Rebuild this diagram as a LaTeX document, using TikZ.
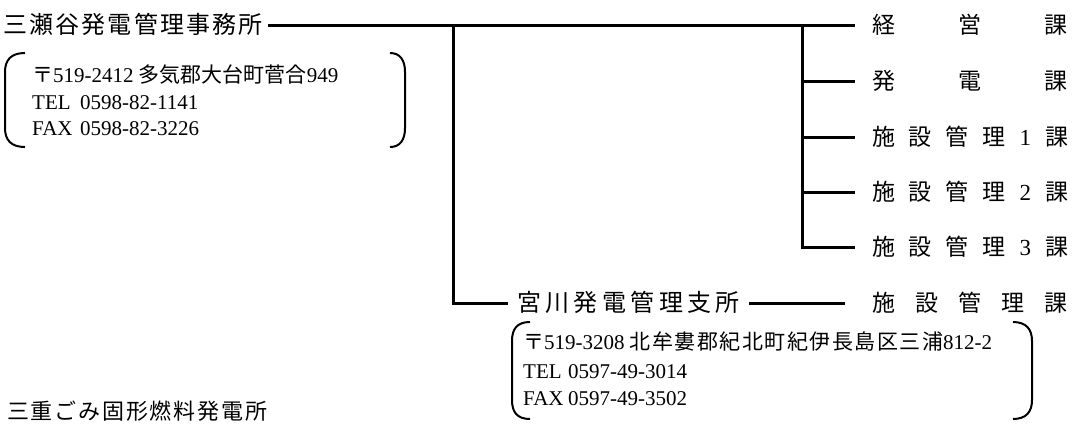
\documentclass[tikz,border=0pt]{standalone}
\usepackage{fontspec}
\setmainfont{Liberation Serif}
\newfontfamily\jp{Noto Sans CJK JP}
\newfontfamily\jpwide{Noto Sans CJK JP}[LetterSpace=7]
\newcommand\spr[2]{\makebox[#1pt][s]{#2}}
\begin{document}
\begin{tikzpicture}[x=1pt,y=-1pt,
  conn/.style={draw=black, line width=3pt},
  brk/.style={draw=black, line width=2pt},
  ttl/.style={anchor=west, inner sep=0pt, text height=19pt, text depth=2pt, font=\fontsize{24}{24}\selectfont\jp},
  lab/.style={anchor=west, inner sep=0pt, outer xsep=17pt, text height=18.4pt, text depth=1.9pt, font=\fontsize{23}{23}\selectfont\jp},
  adr/.style={anchor=west, inner sep=0pt, text height=16.8pt, text depth=1.7pt, font=\fontsize{21}{21}\selectfont},
]
\useasboundingbox (0,0) rectangle (1078,429);

% head office
\node[ttl, outer xsep=5pt] (hq) at (-2,25) {\spr{260}{三\hfill 瀬\hfill 谷\hfill 発\hfill 電\hfill 管\hfill 理\hfill 事\hfill 務\hfill 所}};

% sections
\node[lab] (k1) at (855,25)  {\spr{196}{経\hfill 営\hfill 課}};
\node[lab] (k2) at (855,81)  {\spr{196}{発\hfill 電\hfill 課}};
\node[lab] (k3) at (855,137) {\spr{196}{施\hfill 設\hfill 管\hfill 理\hfill {\rmfamily 1}\hfill 課}};
\node[lab] (k4) at (855,192) {\spr{196}{施\hfill 設\hfill 管\hfill 理\hfill {\rmfamily 2}\hfill 課}};
\node[lab] (k5) at (855,247) {\spr{196}{施\hfill 設\hfill 管\hfill 理\hfill {\rmfamily 3}\hfill 課}};

% branch office
\node[ttl, outer xsep=9pt] (miya) at (508,303) {\spr{223}{宮\hfill 川\hfill 発\hfill 電\hfill 管\hfill 理\hfill 支\hfill 所}};
\node[lab, outer xsep=27pt] (shis) at (845,303) {\spr{196}{施\hfill 設\hfill 管\hfill 理\hfill 課}};

% connectors
\coordinate (j1) at (453,25);
\coordinate (j2) at (802,25);
\draw[conn] (hq.east) -- (k1.west);
\draw[conn] (j2) |- (k5.west);
\foreach \k in {k2,k3,k4} \draw[conn] (j2 |- \k.west) -- (\k.west);
\draw[conn] (j1) |- (miya.west);
\draw[conn] (miya.east) -- (shis.west);

% address of head office
\node[adr] (a1) at (32,75)  {{\jp 〒}519-2412 {\jp 多気郡大台町菅合}949};
\node[adr] (a2) at (32,102) {\makebox[48pt][l]{TEL}0598-82-1141};
\node[adr] (a3) at (32,128) {\makebox[48pt][l]{FAX}0598-82-3226};
\draw[brk] (25,53) .. controls (11,53) and (5,60) .. (5,72) -- (5,128) .. controls (5,140) and (11,147) .. (25,147);
\draw[brk] (390,53) .. controls (400,53) and (405,60) .. (405,72) -- (405,128) .. controls (405,140) and (400,147) .. (390,147);

% address of branch office
\node[adr] (b1) at (523,342) {{\jp 〒}519-3208 {\jpwide 北牟婁郡紀北町紀伊長島区三浦}812-2};
\node[adr] (b2) at (523,371) {\makebox[45pt][l]{TEL}0597-49-3014};
\node[adr] (b3) at (523,398) {\makebox[45pt][l]{FAX}0597-49-3502};
\draw[brk] (530,322) .. controls (517,322) and (512,329) .. (512,341) -- (512,400) .. controls (512,412) and (517,419) .. (530,419);
\draw[brk] (1013,322) .. controls (1026,322) and (1032,329) .. (1032,341) -- (1032,400) .. controls (1032,412) and (1026,419) .. (1013,419);

% RDF power plant
\node[ttl, font=\fontsize{22}{22}\selectfont\jp, text height=17.6pt, text depth=1.8pt] (rdf) at (7,412) {\spr{260}{三\hfill 重\hfill ご\hfill み\hfill 固\hfill 形\hfill 燃\hfill 料\hfill 発\hfill 電\hfill 所}};
\end{tikzpicture}
\end{document}
